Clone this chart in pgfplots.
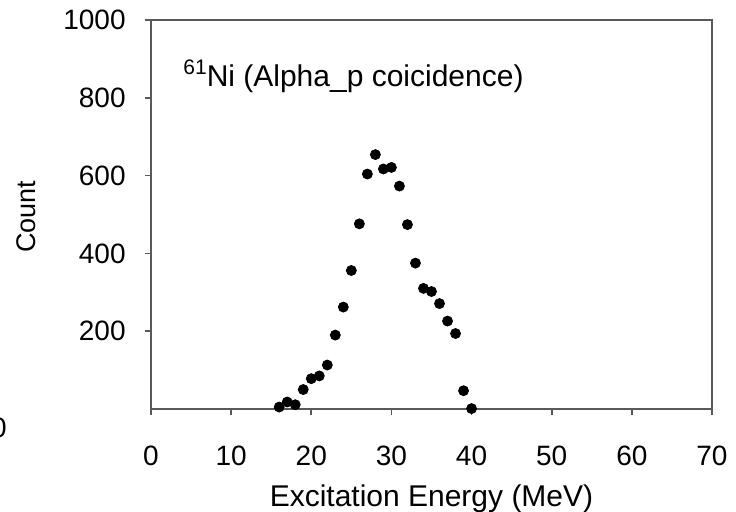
\documentclass[border=0pt]{standalone}
\usepackage{fontspec}
\setmainfont{Liberation Sans}
\usepackage{pgfplots}
\pgfplotsset{compat=1.18}

\begin{document}
\begin{tikzpicture}
% page: 736x512 px at 0.5pt per px, axis box corner at px (151,409)
\useasboundingbox (-75.5pt,-51.5pt) rectangle (292.5pt,204.5pt);
\begin{axis}[
  at={(0pt,0pt)}, anchor=south west,
  width=280.5pt, height=194.5pt, scale only axis,
  xmin=0, xmax=70, ymin=0, ymax=1000,
  xtick={0,10,...,70}, ytick={200,400,...,1000},
  xtick pos=bottom, ytick pos=left, tick align=outside,
  major tick length=3pt,
  axis line style={draw=black!65, line width=0.8pt},
  every tick/.style={draw=black!65, line width=0.8pt},
  /pgf/number format/assume math mode=true,
  /pgf/number format/1000 sep={},
  xticklabel style={font=\fontsize{14}{16}\selectfont, anchor=base, inner sep=0pt, yshift=-25.5pt},
  yticklabel style={font=\fontsize{14}{16}\selectfont, anchor=east, inner sep=0pt, xshift=-9.5pt},
  xlabel={Excitation Energy (MeV)},
  xlabel style={font=\fontsize{15}{17}\selectfont, at={(axis description cs:0.5,0)}, anchor=base, inner sep=0pt, yshift=-49pt},
  ylabel={Count},
  ylabel style={font=\fontsize{13.5}{16}\selectfont, at={(axis description cs:0,0.5)}, anchor=center, inner sep=0pt, yshift=62.5pt, xshift=-1.2pt},
  clip=false,
]
\addplot[only marks, mark=*, mark size=2.5pt, black] coordinates {
  (16,5) (17,18) (18,11) (19,50) (20,78) (21,85) (22,113) (23,190)
  (24,262) (25,356) (26,476) (27,604) (28,654) (29,617) (30,621)
  (31,573) (32,474) (33,375) (34,310) (35,302) (36,271) (37,226)
  (38,194) (39,47) (40,1)
};
\end{axis}
\node[anchor=base west, inner sep=0pt] at (16pt,161pt)
  {\raisebox{6pt}{\fontsize{10.5}{12}\selectfont 61}\fontsize{15}{17}\selectfont Ni (Alpha\_p coicidence)};
\node[anchor=east, inner sep=0pt, font=\fontsize{14}{16}\selectfont] at (-72pt,-9.5pt) {0};
\end{tikzpicture}
\end{document}
